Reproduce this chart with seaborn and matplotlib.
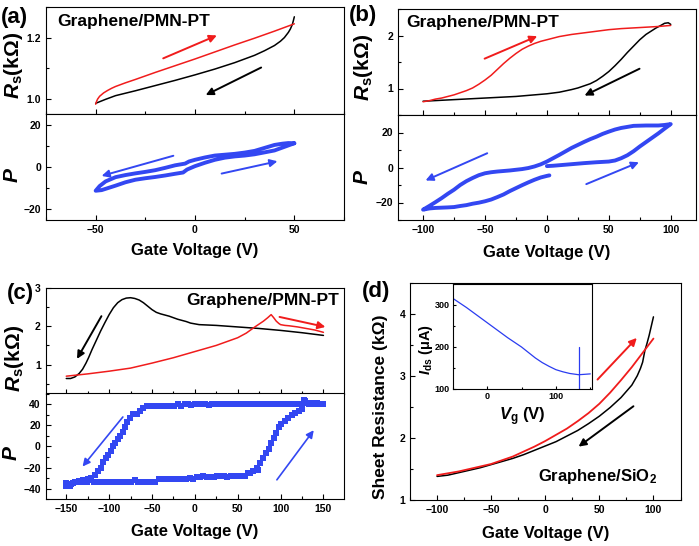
import matplotlib
matplotlib.use("Agg")
import matplotlib.pyplot as plt
import seaborn as sns
from matplotlib.ticker import MultipleLocator

# ---------------- data ----------------
# (a) Graphene/PMN-PT, +-50 V
a_fwd_v = [-50, -49.5, -49, -48, -46, -44, -42, -40, -35, -30, -20, -10, 0, 10, 20, 30, 40, 50]
a_fwd_rs = [0.982, 0.992, 0.999, 1.008, 1.019, 1.027, 1.034, 1.040, 1.052, 1.063, 1.086, 1.108,
            1.130, 1.153, 1.176, 1.198, 1.221, 1.245]
a_bwd_v = [50, 49.5, 49, 48, 47, 45, 43, 40, 35, 30, 25, 20, 10, 0, -10, -20, -30, -40, -45, -50]
a_bwd_rs = [1.268, 1.255, 1.243, 1.228, 1.217, 1.200, 1.188, 1.174, 1.157, 1.142, 1.130, 1.118,
            1.097, 1.078, 1.060, 1.043, 1.026, 1.010, 0.998, 0.985]
a_p_v = [50, 47, 44, 40, 35, 30, 25, 20, 15, 10, 5, 0, -3, -5, -10, -15, -20, -25, -30, -35, -40,
         -45, -48, -50, -47, -44, -40, -35, -30, -25, -20, -15, -10, -6, -4, 0, 5, 10, 15, 20, 25,
         30, 35, 40, 45, 50]
a_p = [11.2, 11.3, 11.0, 10.4, 9.0, 7.6, 6.8, 6.2, 5.8, 5.4, 4.5, 3.4, 2.6, 1.6, 0.8, -0.4, -1.5,
       -2.3, -3.0, -3.8, -4.8, -6.8, -9.0, -11.2, -10.9, -10.0, -8.8, -7.2, -6.0, -5.3, -4.7, -4.0,
       -3.2, -2.6, -1.2, 0.4, 2.0, 3.4, 4.4, 5.0, 5.4, 6.0, 6.9, 7.8, 9.5, 11.2]

# (b) Graphene/PMN-PT, +-100 V
b_fwd_v = [-100, -95, -90, -85, -80, -75, -70, -65, -60, -55, -50, -45, -40, -35, -30, -25, -20,
           -15, -10, -5, 0, 10, 20, 30, 40, 50, 60, 75, 90, 100]
b_fwd_rs = [0.75, 0.77, 0.80, 0.82, 0.85, 0.88, 0.92, 0.96, 1.01, 1.08, 1.16, 1.25, 1.36, 1.47,
            1.57, 1.66, 1.74, 1.80, 1.85, 1.89, 1.92, 1.98, 2.02, 2.05, 2.08, 2.11, 2.13, 2.15,
            2.17, 2.19]
b_bwd_v = [100, 98, 95, 92, 88, 84, 80, 75, 70, 65, 60, 55, 50, 45, 40, 35, 30, 25, 20, 10, 0,
           -25, -50, -75, -100]
b_bwd_rs = [2.21, 2.24, 2.23, 2.19, 2.14, 2.08, 2.02, 1.92, 1.80, 1.68, 1.55, 1.43, 1.32, 1.23,
            1.15, 1.09, 1.05, 1.01, 0.98, 0.93, 0.90, 0.85, 0.82, 0.79, 0.76]
b_p_v = [0, 5, 10, 20, 30, 40, 50, 55, 60, 65, 70, 75, 80, 85, 90, 95, 100,
         95, 90, 80, 70, 60, 55, 50, 45, 40, 35, 30, 25, 20, 15, 10, 5, 0, -5, -10, -15, -20, -25,
         -30, -35, -40, -45, -50, -55, -60, -65, -70, -75, -80, -85, -90, -95, -100,
         -95, -90, -80, -75, -70, -65, -60, -55, -50, -45, -40, -35, -30, -25, -20, -15, -10, -5,
         0, 2]
b_p = [0.8, 1.0, 1.3, 1.9, 2.5, 3.0, 3.4, 4.0, 5.3, 7.0, 9.3, 12.0, 14.5, 17.0, 19.5, 22.2, 24.8,
       24.3, 24.0, 24.0, 23.8, 22.6, 21.7, 20.5, 19.2, 17.6, 16.2, 14.6, 12.9, 11.2, 9.2, 7.2, 5.3,
       3.4, 1.8, 0.6, -0.3, -0.9, -1.3, -1.7, -2.0, -2.3, -2.7, -3.3, -4.4, -6.0, -7.8, -10.0,
       -12.7, -15.0, -17.5, -19.8, -22.0, -24.1,
       -23.4, -23.1, -22.8, -22.6, -22.0, -21.5, -20.7, -20.1, -19.3, -18.3, -16.9, -15.4, -13.5,
       -11.8, -10.1, -8.5, -7.0, -5.7, -4.8, -4.5]

# (c) Graphene/PMN-PT, +-150 V
c_bwd_v = [150, 125, 100, 75, 50, 25, 5, 0, -5, -10, -20, -30, -40, -45, -50, -55, -60, -65, -70,
           -75, -80, -85, -90, -95, -100, -105, -110, -115, -120, -124, -127, -131, -135, -140,
           -145, -150]
c_bwd_rs = [1.76, 1.83, 1.89, 1.94, 1.98, 2.02, 2.04, 2.06, 2.08, 2.12, 2.18, 2.26, 2.32, 2.36,
            2.43, 2.52, 2.61, 2.68, 2.72, 2.74, 2.73, 2.69, 2.61, 2.48, 2.30, 2.09, 1.87, 1.63,
            1.39, 1.18, 1.04, 0.88, 0.77, 0.68, 0.64, 0.64]
c_fwd_v = [-150, -125, -100, -75, -50, -25, 0, 25, 50, 60, 70, 80, 85, 89, 92, 95, 98, 100, 105,
           110, 120, 130, 140, 150]
c_fwd_rs = [0.70, 0.76, 0.83, 0.91, 1.04, 1.18, 1.34, 1.50, 1.70, 1.82, 1.98, 2.13, 2.22, 2.30,
            2.22, 2.13, 2.07, 2.04, 2.02, 2.01, 1.98, 1.94, 1.90, 1.84]
c_p_v = [150, 146, 142, 138, 134, 130, 127, 124, 120, 116, 112, 108, 104, 100, 96, 92, 88, 84, 80,
         76, 72, 68, 64, 60, 56, 52, 48, 44, 40, 36, 32, 28, 24, 20, 16, 12, 8, 4, 0, -4, -8, -12,
         -16, -20, -24, -28, -32, -36, -40, -44, -48, -52, -56, -60, -64,
         -68, -72, -76, -79, -82, -84, -87, -90, -93, -95, -98, -101, -104, -107, -110, -113, -117,
         -121, -125, -130, -135, -140, -145, -150,
         -150, -146, -142, -138, -134, -130, -126, -122, -118, -114, -110, -106, -102, -98, -94, -90,
         -86, -82, -78, -74, -70, -66, -62, -58, -54, -50, -46,
         -42, -38, -34, -30, -26, -22, -18, -14, -10, -6, -2,
         2, 6, 10, 14, 18, 22, 26, 30, 34, 38, 42, 46, 50, 54, 58, 62,
         64, 68, 72, 74, 76, 80, 83, 86, 89, 92, 95, 98, 101, 105, 109, 113, 117, 121, 125, 129, 133,
         137, 141, 145, 150]
c_p = [40, 40, 41, 40, 40, 41, 44, 40, 40, 40, 40, 40, 40, 40, 40, 40, 40, 40, 40,
       40, 40, 40, 40, 40, 40, 40, 40, 40, 40, 40, 40, 40, 40, 40, 39, 40, 40, 40, 40, 39, 40, 40,
       38, 40, 38, 38, 38, 38, 38, 38, 38, 38, 38, 36, 33,
       31, 31, 27, 23, 18, 14, 10, 7, 3, 0, -4, -8, -11, -15, -20, -23, -27,
       -30, -31, -32, -33, -34, -36, -37,
       -35, -37, -35, -34, -34, -34, -34, -32, -34, -34, -34, -34, -34, -34, -34, -34,
       -34, -34, -34, -34, -32, -34, -34, -34, -34, -34, -34,
       -31, -31, -31, -31, -31, -31, -31, -31, -31, -30, -31,
       -29, -29, -28, -29, -29, -29, -28, -28, -28, -29, -28, -28, -28, -28, -28, -25,
       -25, -23, -20, -22, -16, -11, -6, -2, 3, 8, 13, 18, 21, 24, 27, 30, 32, 33, 35, 43, 40,
       41, 40, 40, 40]

# (d) Graphene/SiO2
d_fwd_v = [-100, -90, -80, -70, -60, -50, -40, -30, -20, -10, 0, 10, 20, 30, 40, 50, 60, 70, 80,
           90, 100]
d_fwd_rs = [1.40, 1.43, 1.46, 1.50, 1.54, 1.58, 1.64, 1.70, 1.78, 1.86, 1.95, 2.05, 2.15, 2.27,
            2.40, 2.55, 2.73, 2.93, 3.14, 3.37, 3.60]
d_bwd_v = [100, 98, 96, 94, 92, 90, 88, 85, 80, 70, 60, 50, 40, 30, 20, 10, 0, -10, -20, -30, -40,
           -50, -60, -70, -80, -90, -100]
d_bwd_rs = [3.95, 3.80, 3.65, 3.52, 3.40, 3.22, 3.12, 3.00, 2.85, 2.65, 2.49, 2.35, 2.23, 2.12,
            2.03, 1.94, 1.87, 1.80, 1.73, 1.67, 1.62, 1.57, 1.52, 1.48, 1.44, 1.40, 1.38]
ins_v = [-50, -40, -30, -20, -10, 0, 10, 20, 30, 40, 50, 60, 70, 80, 90, 100, 110, 120, 133, 142, 150]
ins_i = [316, 305, 294, 282, 270, 258, 246, 234, 222, 211, 200, 187, 174, 163, 154, 146, 141, 137,
         134, 135, 136]
ins_mark_v = [134, 134]
ins_mark_i = [100, 200]

RED = '#f01c1c'
BLACK = '#000000'
BLUE = '#3347f2'
IBLUE = '#2a3cf0'

# ---------------- style ----------------
sns.set_theme(style='ticks')
plt.rcParams.update({
    'font.family': ['Liberation Sans', 'DejaVu Sans'],
    'font.weight': 'bold',
    'axes.labelweight': 'bold',
    'mathtext.fontset': 'custom',
    'mathtext.rm': 'Liberation Sans:bold',
    'mathtext.it': 'Liberation Sans:italic:bold',
    'mathtext.bf': 'Liberation Sans:bold',
    'xtick.direction': 'in', 'ytick.direction': 'in',
    'xtick.major.size': 3.5, 'ytick.major.size': 3.5,
    'xtick.minor.size': 2.0, 'ytick.minor.size': 2.0,
    'xtick.major.width': 0.8, 'ytick.major.width': 0.8,
    'xtick.minor.width': 0.8, 'ytick.minor.width': 0.8,
    'xtick.labelsize': 7.5, 'ytick.labelsize': 7.5,
    'axes.linewidth': 0.8, 'axes.edgecolor': 'black',
    'xtick.color': 'black', 'ytick.color': 'black',
    'text.color': 'black', 'axes.labelcolor': 'black',
    'lines.solid_capstyle': 'round', 'lines.solid_joinstyle': 'round',
})

W, H = 699, 546
fig = plt.figure(figsize=(W / 100, H / 100), dpi=100)


def add_ax(l, t, r, b):
    return fig.add_axes([l / W, 1 - b / H, (r - l) / W, (b - t) / H])


def line(ax, x, y, c, lw=1.1):
    sns.lineplot(x=x, y=y, ax=ax, color=c, lw=lw, sort=False, estimator=None,
                 errorbar=None, legend=False)


def arrow(ax, x0, y0, x1, y1, c, lw=1.4):
    ax.annotate('', xy=(x1, y1), xytext=(x0, y0),
                arrowprops=dict(arrowstyle='-|>', color=c, lw=lw, mutation_scale=11,
                                shrinkA=0, shrinkB=0))


def ticks(ax, xmaj, xmin, ymaj, ymin):
    ax.xaxis.set_major_locator(MultipleLocator(xmaj))
    ax.xaxis.set_minor_locator(MultipleLocator(xmin))
    ax.yaxis.set_major_locator(MultipleLocator(ymaj))
    ax.yaxis.set_minor_locator(MultipleLocator(ymin))


def ylab(ax, txt, x, y, size):
    ax.set_ylabel(txt, fontsize=size, fontweight='bold')
    ax.yaxis.label.set_va('center')
    ax.yaxis.set_label_coords(x, y)


def xlab(ax, txt, y, size=12):
    ax.set_xlabel(txt, fontsize=size, fontweight='bold')
    ax.xaxis.label.set_va('center')
    ax.xaxis.set_label_coords(0.5, y)


def ftext(x, y, s, size, **kw):
    fig.text(x / W, 1 - y / H, s, ha='center', va='center', fontsize=size, fontweight='bold', **kw)


RS = r'$R_{\mathrm{s}}$(kΩ)'
P = r'$P$'

# ---------- (a) ----------
at = add_ax(46, 7, 344, 114)
ab = add_ax(46, 114, 344, 220)
line(at, a_bwd_v, a_bwd_rs, BLACK)
line(at, a_fwd_v, a_fwd_rs, RED)
arrow(at, -16, 1.132, 11, 1.207, RED)
arrow(at, 33.3, 1.102, 5.4, 1.012, BLACK)
at.set(xlim=(-75, 75), ylim=(0.95, 1.30))
ticks(at, 50, 25, 0.2, 0.1)
at.tick_params(labelbottom=False)
ylab(at, RS, -0.109, 0.45, 15)
at.set_xlabel('')
line(ab, a_p_v, a_p, BLUE, lw=2.8)
arrow(ab, -10.9, 5.3, -47, -4.2, BLUE)
arrow(ab, 13.4, -3.1, 41.5, 2.7, BLUE)
ab.set(xlim=(-75, 75), ylim=(-25, 25))
ticks(ab, 50, 25, 20, 10)
ylab(ab, P, -0.114, 0.425, 15)
xlab(ab, 'Gate Voltage (V)', -0.29)

# ---------- (b) ----------
bt = add_ax(398.3, 9, 695.5, 115)
bb = add_ax(398.3, 115, 695.5, 220)
line(bt, b_bwd_v, b_bwd_rs, BLACK)
line(bt, b_fwd_v, b_fwd_rs, RED)
arrow(bt, -50.3, 1.563, -7.8, 1.987, RED)
arrow(bt, 74.8, 1.373, 30.4, 0.867, BLACK)
bt.set(xlim=(-120, 120), ylim=(0.5, 2.5))
ticks(bt, 50, 25, 1, 0.5)
bt.tick_params(labelbottom=False)
ylab(bt, RS, -0.117, 0.448, 15)
bt.set_xlabel('')
line(bb, b_p_v, b_p, BLUE, lw=2.8)
arrow(bb, -48.2, 8.15, -98, -7.4, BLUE)
arrow(bb, 31.8, -9.5, 74.3, 3.0, BLUE)
bb.set(xlim=(-120, 120), ylim=(-30, 30))
ticks(bb, 50, 25, 20, 10)
ylab(bb, P, -0.12, 0.414, 15)
xlab(bb, 'Gate Voltage (V)', -0.314)

# ---------- (c) ----------
ct = add_ax(45.7, 287.7, 344, 393.5)
cb = add_ax(45.7, 393.5, 344, 499.3)
line(ct, c_bwd_v, c_bwd_rs, BLACK)
line(ct, c_fwd_v, c_fwd_rs, RED)
arrow(ct, -109, 2.26, -137.5, 1.15, BLACK)
arrow(ct, 98.8, 2.24, 152.3, 1.98, RED)
ct.set(xlim=(-174, 174), ylim=(0.25, 3.0))
ticks(ct, 50, 25, 1, 0.5)
ct.tick_params(labelbottom=False)
ylab(ct, RS, -0.106, 0.33, 15)
ct.set_xlabel('')
sns.scatterplot(x=c_p_v, y=c_p, ax=cb, marker='s', s=13, color=BLUE, linewidth=0, legend=False)
arrow(cb, -84, 27.8, -131, -19, BLUE, lw=1.2)
arrow(cb, 95.7, -31.6, 138.7, 15.3, BLUE, lw=1.2)
cb.set(xlim=(-174, 174), ylim=(-50, 50))
ticks(cb, 50, 25, 20, 10)
ylab(cb, P, -0.114, 0.433, 15)
xlab(cb, 'Gate Voltage (V)', -0.306)

# ---------- (d) ----------
dd = add_ax(410, 282.7, 680.5, 500)
line(dd, d_bwd_v, d_bwd_rs, BLACK)
line(dd, d_fwd_v, d_fwd_rs, RED, lw=1.3)
arrow(dd, 48.3, 2.94, 84.6, 3.61, RED)
arrow(dd, 81.5, 2.51, 30.8, 1.86, BLACK)
dd.set(xlim=(-125, 125), ylim=(1, 4.5))
ticks(dd, 50, 25, 1, 0.5)
ylab(dd, 'Sheet Resistance (kΩ)', -0.109, 0.43, 12.5)
xlab(dd, 'Gate Voltage (V)', -0.153)

ins = add_ax(452.7, 284, 591.7, 389)
line(ins, ins_v, ins_i, IBLUE, lw=0.9)
line(ins, ins_mark_v, ins_mark_i, IBLUE, lw=0.9)
ins.set(xlim=(-50, 152), ylim=(100, 350))
ticks(ins, 100, 50, 100, 50)
ins.tick_params(labelsize=6.5, length=2.5, pad=2)
ins.tick_params(which='minor', length=1.5)
ylab(ins, r'$I_{\mathrm{ds}}$ (μA)', -0.195, 0.38, 10.5)
xlab(ins, r'$V_{\mathrm{g}}$ (V)', -0.26, 12)

# ---------- texts ----------
ftext(14, 17.5, '(a)', 16)
ftext(363.5, 15, '(b)', 16)
ftext(20, 293, '(c)', 16)
ftext(376.5, 292, '(d)', 16)
ftext(134, 21.7, 'Graphene/PMN-PT', 12.5)
ftext(482.5, 23, 'Graphene/PMN-PT', 12.5)
ftext(262.5, 300.5, 'Graphene/PMN-PT', 12.5)
ftext(597.5, 477, r'Graphene/SiO$_{\mathrm{2}}$', 12)

fig.savefig('out.png', dpi=100)
